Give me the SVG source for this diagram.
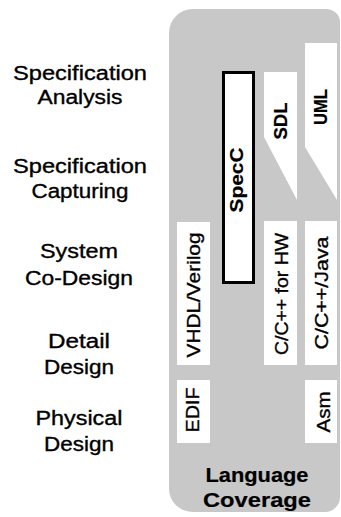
<svg xmlns="http://www.w3.org/2000/svg" width="341" height="517" viewBox="0 0 341 517">
<style>
.lbl{font-family:"Liberation Sans",Arial,sans-serif;font-size:20px;fill:#000;text-anchor:middle;stroke:#000;stroke-width:0.35px}
.v{font-family:"Liberation Sans",Arial,sans-serif;font-size:18px;fill:#000;text-anchor:middle;stroke:#000;stroke-width:0.35px}
.b{font-weight:bold;stroke-width:0.2px}
.box{fill:#fff}
</style>
<rect width="341" height="517" fill="#fff"/>
<g id="coverage-area">
<path d="M193,9 H326 A14,13 0 0 1 340,22 V497 A15,15 0 0 1 325,512 H193 A24,23 0 0 1 169,489 V33 A24,24 0 0 1 193,9 Z" fill="#c8c8c8"/>
<text class="lbl b" x="257" y="482" font-size="20" textLength="103" lengthAdjust="spacingAndGlyphs">Language</text>
<text class="lbl b" x="257" y="507" font-size="20" textLength="108" lengthAdjust="spacingAndGlyphs">Coverage</text>
</g>
<g id="levels">
<text class="lbl" x="80" y="80" textLength="134" lengthAdjust="spacingAndGlyphs">Specification</text>
<text class="lbl" x="80" y="104" textLength="85" lengthAdjust="spacingAndGlyphs">Analysis</text>
<text class="lbl" x="80" y="173" textLength="134" lengthAdjust="spacingAndGlyphs">Specification</text>
<text class="lbl" x="80" y="198" textLength="97" lengthAdjust="spacingAndGlyphs">Capturing</text>
<text class="lbl" x="79" y="258" textLength="78" lengthAdjust="spacingAndGlyphs">System</text>
<text class="lbl" x="79" y="285" textLength="108" lengthAdjust="spacingAndGlyphs">Co-Design</text>
<text class="lbl" x="79" y="348" textLength="62" lengthAdjust="spacingAndGlyphs">Detail</text>
<text class="lbl" x="79" y="374" textLength="70" lengthAdjust="spacingAndGlyphs">Design</text>
<text class="lbl" x="79" y="425" textLength="87" lengthAdjust="spacingAndGlyphs">Physical</text>
<text class="lbl" x="79" y="451" textLength="70" lengthAdjust="spacingAndGlyphs">Design</text>
</g>
<g id="uml">
<polygon class="box" points="305,43 337,43 337,200 305,147"/>
<text class="v b" transform="translate(327,107) rotate(-90)" textLength="36" lengthAdjust="spacingAndGlyphs">UML</text>
</g>
<g id="sdl">
<polygon class="box" points="264,72 297,72 297,200 264,137"/>
<text class="v b" transform="translate(287,121) rotate(-90)" textLength="37" lengthAdjust="spacingAndGlyphs">SDL</text>
</g>
<g id="specc">
<rect x="223.5" y="72.5" width="30" height="210" fill="#fff" stroke="#000" stroke-width="3"/>
<text class="v b" font-size="19" transform="translate(243,180) rotate(-90)" textLength="65" lengthAdjust="spacingAndGlyphs">SpecC</text>
</g>
<g id="vhdl">
<rect class="box" x="177" y="222" width="33" height="143"/>
<text class="v" transform="translate(200,295) rotate(-90)" textLength="125" lengthAdjust="spacingAndGlyphs">VHDL/Verilog</text>
</g>
<g id="c-hw">
<rect class="box" x="264" y="221" width="33" height="144"/>
<text class="v" transform="translate(288,294) rotate(-90)" textLength="122" lengthAdjust="spacingAndGlyphs">C/C++ for HW</text>
</g>
<g id="c-java">
<rect class="box" x="305" y="221" width="32" height="144"/>
<text class="v" transform="translate(328,293) rotate(-90)" textLength="113" lengthAdjust="spacingAndGlyphs">C/C++/Java</text>
</g>
<g id="edif">
<rect class="box" x="177" y="380" width="33" height="63"/>
<text class="v" transform="translate(199,410) rotate(-90)" textLength="45" lengthAdjust="spacingAndGlyphs">EDIF</text>
</g>
<g id="asm">
<rect class="box" x="305" y="380" width="32" height="63"/>
<text class="v" transform="translate(330,412) rotate(-90)" textLength="41" lengthAdjust="spacingAndGlyphs">Asm</text>
</g>
<g id="connectors"></g>
</svg>
